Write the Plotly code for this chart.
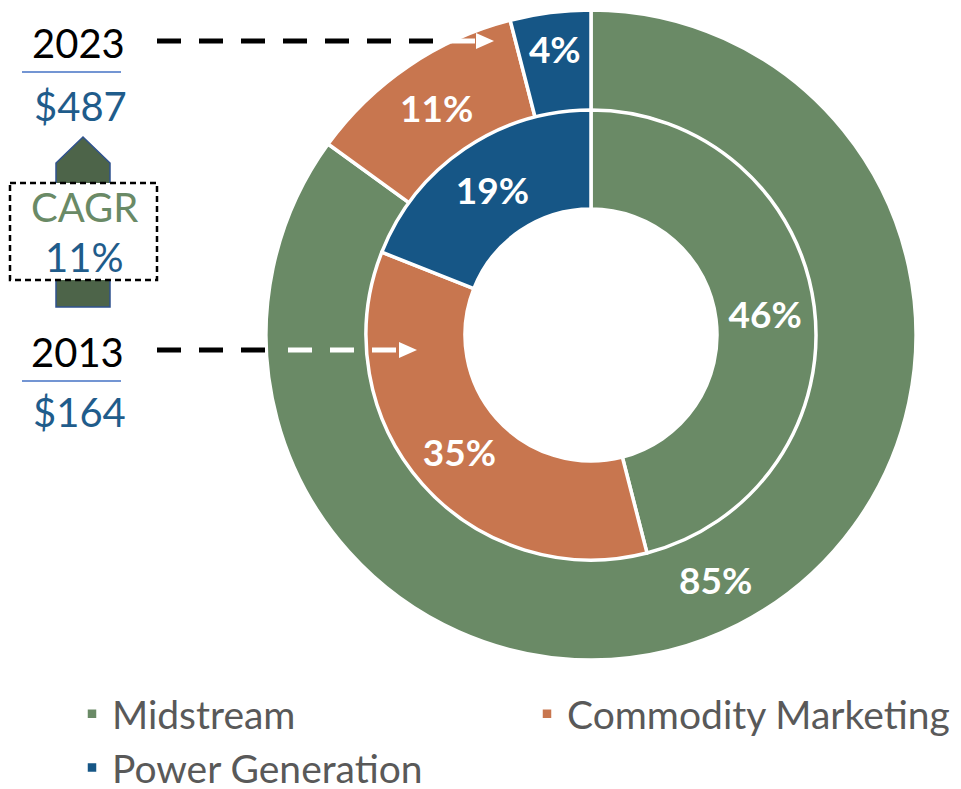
"""Segment mix donut: 2013 (inner) vs 2023 (outer)"""
import plotly.graph_objects as go

# the page body adds an 8px margin, so the figure is laid out in screen pixels minus that;
# extra width/height past the window keeps the legend from pushing the margins
OFF = 8
W, H = 961 - OFF + 40, 789 - OFF + 40

segments = ["Midstream", "Commodity Marketing", "Power Generation"]
share_2023 = [85, 11, 4]
share_2013 = [46, 35, 19]
years = ["2023", "2013"]
totals = ["$487", "$164"]
cagr_label = "CAGR"
cagr_value = "11%"

GREEN = "#6A8A66"
ORANGE = "#C8764F"
BLUE = "#165686"
DARK_GREEN = "#4D6449"
TEXT_BLUE = "#1F5C8B"
FONT = "Lato"


def px(x):
    return (x - OFF) / W


def py(y):
    return 1 - (y - OFF) / H


def ring(values, name, box, hole):
    x0, y0, x1, y1 = box
    return go.Pie(
        labels=segments,
        values=values,
        name=name,
        hole=hole,
        sort=False,
        direction="clockwise",
        rotation=0,
        domain=dict(x=[px(x0), px(x1)], y=[py(y1), py(y0)]),
        marker=dict(colors=[GREEN, ORANGE, BLUE], line=dict(color="white", width=3.5)),
        texttemplate="%{value}%",
        textposition="inside",
        insidetextorientation="horizontal",
        textfont=dict(family=FONT, size=37, color="white", weight="bold"),
        hoverinfo="label+value",
    )


fig = go.Figure()
fig.add_trace(ring(share_2023, "2023", (266, 10, 916, 660), 0.69))
fig.add_trace(ring(share_2013, "2013", (366, 110, 816, 560), 0.56))

shapes = []

# CAGR arrow behind the dashed box
arrow = [(83, 137), (110, 163), (110, 307), (56, 307), (56, 163)]
path = "M" + " L".join(f"{px(x):.5f},{py(y):.5f}" for x, y in arrow) + " Z"
shapes.append(dict(type="path", xref="paper", yref="paper", path=path,
                   fillcolor=DARK_GREEN, line=dict(color="#2F528F", width=1.5)))
shapes.append(dict(type="rect", xref="paper", yref="paper",
                   x0=px(10), x1=px(157), y0=py(183), y1=py(280),
                   fillcolor="white", line=dict(color="black", width=2.5, dash="6px,4px")))

# underline of each year
for yy in (72, 381):
    shapes.append(dict(type="line", xref="paper", yref="paper",
                       x0=px(22), x1=px(121), y0=py(yy), y1=py(yy),
                       line=dict(color="#4472C4", width=1.5)))

# dashed pointers: black over the page, white over the ring
DASH = "24px,18px"
pointers = [
    (41, (157, 433), (451, 476)),
    (350, (157, 266), (288, 399)),
]
for yy, black, white in pointers:
    shapes.append(dict(type="line", xref="paper", yref="paper",
                       x0=px(black[0]), x1=px(black[1]), y0=py(yy), y1=py(yy),
                       line=dict(color="black", width=5, dash=DASH)))
    shapes.append(dict(type="line", xref="paper", yref="paper",
                       x0=px(white[0]), x1=px(white[1]), y0=py(yy), y1=py(yy),
                       line=dict(color="white", width=5, dash=DASH)))
    tip = white[1] + 18
    head = [(white[1], yy - 8), (tip, yy), (white[1], yy + 8)]
    hp = "M" + " L".join(f"{px(x):.5f},{py(y):.5f}" for x, y in head) + " Z"
    shapes.append(dict(type="path", xref="paper", yref="paper", path=hp,
                       fillcolor="white", line=dict(color="white", width=0)))

annotations = []


def label(text, x, y, color, size=40):
    annotations.append(dict(text=text, x=px(x), y=py(y), xref="paper", yref="paper",
                            showarrow=False, xanchor="center", yanchor="middle",
                            font=dict(family=FONT, size=size, color=color)))


label(years[0], 78, 43, "black")
label(totals[0], 80, 106, TEXT_BLUE)
label(cagr_label, 84, 207, GREEN)
label(cagr_value, 84, 257, TEXT_BLUE)
label(years[1], 77, 352, "black")
label(totals[1], 79, 412, TEXT_BLUE)

fig.update_layout(
    width=W,
    height=H,
    autosize=False,
    margin=dict(l=0, r=0, t=0, b=0),
    paper_bgcolor="white",
    plot_bgcolor="white",
    font=dict(family=FONT),
    shapes=shapes,
    annotations=annotations,
    showlegend=True,
    legend=dict(
        orientation="h",
        x=px(72),
        y=py(682),
        xanchor="left",
        yanchor="top",
        entrywidth=410,
        font=dict(family=FONT, size=39, color="#595959"),
        traceorder="normal",
    ),
)

fig.write_html("out.html")
